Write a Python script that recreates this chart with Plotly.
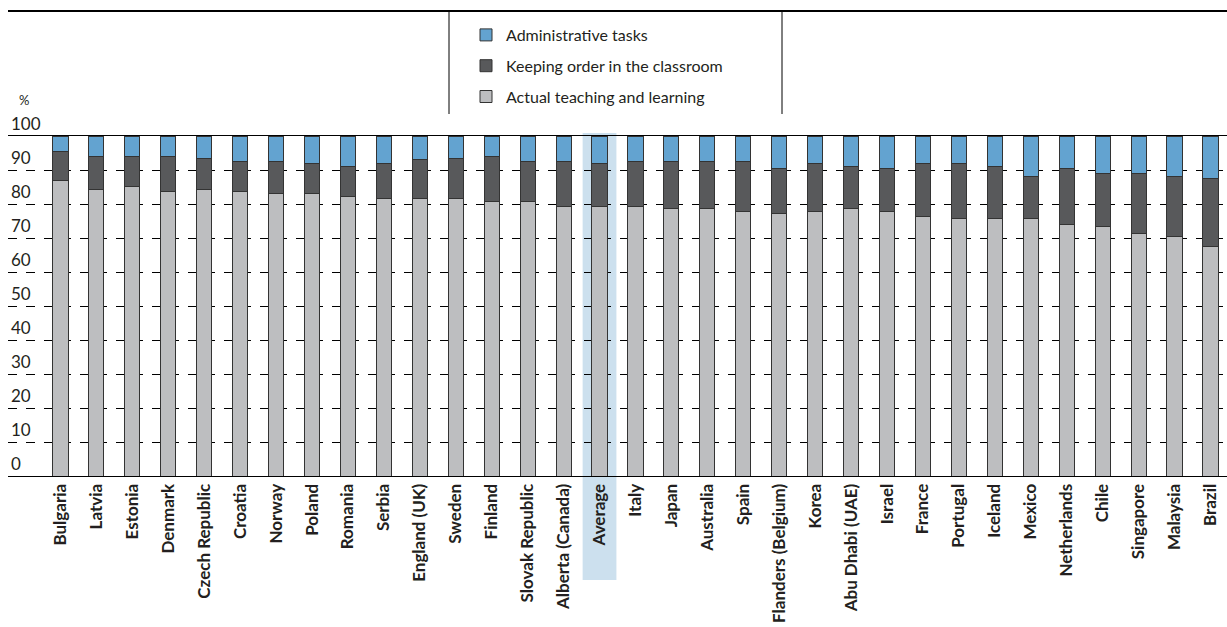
import plotly.graph_objects as go

countries = ["Bulgaria", "Latvia", "Estonia", "Denmark", "Czech Republic", "Croatia", "Norway",
             "Poland", "Romania", "Serbia", "England (UK)", "Sweden", "Finland", "Slovak Republic",
             "Alberta (Canada)", "Average", "Italy", "Japan", "Australia", "Spain",
             "Flanders (Belgium)", "Korea", "Abu Dhabi (UAE)", "Israel", "France", "Portugal",
             "Iceland", "Mexico", "Netherlands", "Chile", "Singapore", "Malaysia", "Brazil"]

teaching = [86.8, 84.4, 85.2, 83.7, 84.4, 83.7, 83.0, 83.0, 82.2, 81.5, 81.5, 81.5, 80.8, 80.8,
            79.3, 79.3, 79.3, 78.6, 78.6, 77.8, 77.1, 77.8, 78.6, 77.8, 76.4, 75.6, 75.6, 75.6,
            74.1, 73.3, 71.2, 70.4, 67.5]
keeping_order = [8.7, 9.6, 8.8, 10.3, 8.9, 8.8, 9.5, 8.9, 8.9, 10.4, 11.7, 11.8, 13.2, 11.7,
                 13.2, 12.6, 13.2, 13.9, 13.9, 14.7, 13.3, 14.1, 12.5, 12.6, 15.5, 16.3, 15.5,
                 12.5, 16.3, 15.6, 17.7, 17.7, 19.9]
administrative = [4.5, 6.0, 6.0, 6.0, 6.7, 7.5, 7.5, 8.1, 8.9, 8.1, 6.8, 6.7, 6.0, 7.5, 7.5,
                  8.1, 7.5, 7.5, 7.5, 7.5, 9.6, 8.1, 8.9, 9.6, 8.1, 8.1, 8.9, 11.9, 9.6, 11.1,
                  11.1, 11.9, 12.6]

y_ticks = [0, 10, 20, 30, 40, 50, 60, 70, 80, 90, 100]

FONT = "Lato"
TXT = "#231F20"
W, H = 1227, 627
ML, MR, MT, MB = 8, 0, 136, 151
PW = W - ML - MR
PH = H - MT - MB


def px_x(x):
    return (x - ML) / PW


def px_y(y):
    return (H - MB - y) / PH


fig = go.Figure()
series = [
    ("Actual teaching and learning", teaching, "#BDBEC0", 3),
    ("Keeping order in the classroom", keeping_order, "#58595B", 2),
    ("Administrative tasks", administrative, "#63A3D0", 1),
]
for name, vals, col, rank in series:
    fig.add_trace(go.Bar(
        x=countries, y=vals, name=name, width=0.42, legendgroup=name, legendrank=rank,
        marker=dict(color=col, line=dict(color="#333333", width=1)),
    ))

avg_idx = countries.index("Average")
fig.add_shape(type="rect", xref="x", yref="paper", x0=avg_idx - 0.47, x1=avg_idx + 0.47,
              y0=px_y(580), y1=px_y(133), fillcolor="#CCE0EE", line=dict(width=0), layer="below")

# top rule and legend separators
fig.add_shape(type="line", xref="paper", yref="paper", x0=0, x1=1, y0=px_y(11), y1=px_y(11),
              line=dict(color="black", width=2))
for xx in (449, 782):
    fig.add_shape(type="line", xref="paper", yref="paper", x0=px_x(xx), x1=px_x(xx),
                  y0=px_y(11), y1=px_y(114), line=dict(color="black", width=1))

fig.add_annotation(text="%", xref="paper", yref="paper", x=px_x(17), y=px_y(100),
                   xanchor="left", yanchor="middle", showarrow=False,
                   font=dict(family=FONT, size=13, color=TXT))

# y tick labels sit just above their gridlines
for v in y_ticks:
    fig.add_annotation(text=str(v), xref="paper", yref="y", x=px_x(9), y=v,
                       xanchor="left", yanchor="bottom", yshift=0, showarrow=False,
                       font=dict(family=FONT, size=17, color=TXT))

fig.update_layout(
    width=W, height=H,
    margin=dict(l=ML, r=MR, t=MT, b=MB, autoexpand=False),
    barmode="stack",
    plot_bgcolor="white", paper_bgcolor="white",
    showlegend=True,
    legend=dict(traceorder="grouped", tracegroupgap=7,
                x=px_x(466), y=px_y(18), xanchor="left", yanchor="top",
                font=dict(family=FONT, size=16, color=TXT), bgcolor="rgba(0,0,0,0)",
                itemclick=False),
    xaxis=dict(range=[-1.46, 32.46], tickangle=-90, showline=True, mirror=True,
               linecolor="black", linewidth=1, ticks="", showgrid=False,
               tickfont=dict(family=FONT, size=17, color=TXT, weight="bold")),
    yaxis=dict(range=[0, 100], tickvals=y_ticks, showticklabels=False,
               showgrid=True, gridcolor="black", gridwidth=1,
               griddash="dash", zeroline=False, showline=False, ticks=""),
)

fig.write_html("out.html", config={"displayModeBar": False},
               post_script="document.body.style.margin='0';document.body.style.overflow='hidden';")
